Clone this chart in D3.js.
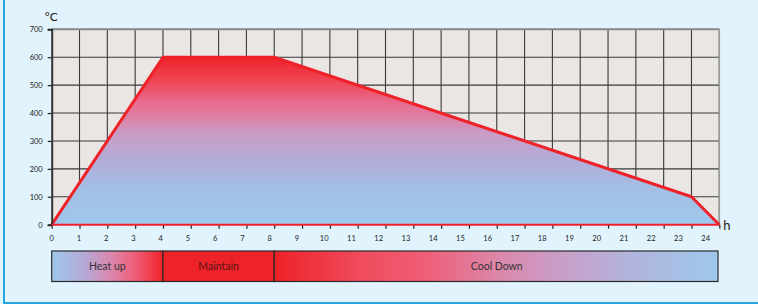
<!DOCTYPE html>
<head>
  <meta charset="utf-8">
  <style>
    body {
      margin: 0;
      background: #e1f3fc;
    }
    #chart {
      position: absolute;
      left: 0;
      top: 0;
      width: 758px;
      height: 304px;
      box-sizing: border-box;
      border-left: 2px solid #27a6df;
      border-bottom: 2px solid #27a6df;
      margin-left: 3px;
    }
    svg {
      position: absolute;
      left: 0;
      top: 0;
      font-family: Lato, 'Open Sans', sans-serif;
    }
  </style>
  <script src="https://cdn.jsdelivr.net/npm/d3@7"></script>
</head>
<body>
<div id=chart></div>
<svg id=svg width="758" height="304"></svg>

<script>
// firing profile: temperature (°C) against time (h)
const hours = [0, 4, 8, 23, 24]
const temps = [0, 600, 600, 100, 0]

const yTicks = [0, 100, 200, 300, 400, 500, 600, 700]
const xTicks = d3.range(0, 25)

const phaseNames = ['Heat up', 'Maintain', 'Cool Down']
const phaseStart = [0, 4, 8]
const phaseEnd = [4, 8, 24]

const red = '#ee2229'
const blue = '#9ec8ec'

const svg = d3.select('#svg')

const x = d3.scaleLinear([0, 24], [51.7, 719.3])
// tick labels in the original drift a little left of their ticks
const xl = d3.scaleLinear([0, 24], [51.7, 705.7])
const y = d3.scaleLinear([0, 700], [224.7, 29.3])

const defs = svg.append('defs')
const fillGrad = defs.append('linearGradient')
  .attr('id', 'fillGrad')
  .attr('gradientUnits', 'userSpaceOnUse')
  .attr('x1', 0).attr('x2', 0)
  .attr('y1', y(600)).attr('y2', y(0))
fillGrad.selectAll('stop')
  .data([[0, red], [0.15, '#ef4858'], [0.26, '#e9688a'], [0.36, '#de80a4'], [0.45, '#c99cc4'], [0.61, '#b3acd8'], [0.79, '#a4bfe5'], [1, blue]])
  .join('stop')
  .attr('offset', d => d[0])
  .attr('stop-color', d => d[1])

const heatGrad = defs.append('linearGradient').attr('id', 'heatGrad')
heatGrad.selectAll('stop')
  .data([[0, blue], [0.3, '#b5a9d6'], [0.55, '#de84aa'], [0.78, '#f0586f'], [1, red]])
  .join('stop')
  .attr('offset', d => d[0])
  .attr('stop-color', d => d[1])

const coolGrad = defs.append('linearGradient').attr('id', 'coolGrad')
coolGrad.selectAll('stop')
  .data([[0, red], [0.2, '#f04c5e'], [0.33, '#f05c74'], [0.5, '#dc86a8'], [0.62, '#cc9ac4'], [0.8, '#b2b4dc'], [1, blue]])
  .join('stop')
  .attr('offset', d => d[0])
  .attr('stop-color', d => d[1])

// plot background
svg.append('rect')
  .attr('x', x(0)).attr('y', y(700))
  .attr('width', x(24) - x(0)).attr('height', y(0) - y(700))
  .attr('fill', '#e9e6e3')

// grid
const grid = svg.append('g').attr('stroke', '#3a3a3a').attr('stroke-width', 1.1)
grid.selectAll('.v')
  .data(xTicks.slice(1))
  .join('line')
  .attr('x1', d => x(d)).attr('x2', d => x(d))
  .attr('y1', y(700)).attr('y2', y(0))
grid.selectAll('.h')
  .data(yTicks.slice(1))
  .join('line')
  .attr('x1', x(0)).attr('x2', x(24))
  .attr('y1', d => y(d)).attr('y2', d => y(d))
svg.append('line')
  .attr('x1', x(0)).attr('x2', x(24))
  .attr('y1', y(700)).attr('y2', y(700))
  .attr('stroke', '#8a8c8e').attr('stroke-width', 2)
svg.append('line')
  .attr('x1', x(24)).attr('x2', x(24))
  .attr('y1', y(700)).attr('y2', y(0))
  .attr('stroke', '#9a9c9e').attr('stroke-width', 1.5)

const points = hours.map((h, i) => [h, temps[i]])

svg.append('path')
  .attr('d', d3.area().x(d => x(d[0])).y0(y(0)).y1(d => y(d[1]))(points))
  .attr('fill', 'url(#fillGrad)')

svg.append('path')
  .attr('d', d3.line().x(d => x(d[0])).y(d => y(d[1]))(points))
  .attr('fill', 'none')
  .attr('stroke', red)
  .attr('stroke-width', 3)
  .attr('stroke-linejoin', 'round')

// y axis
const yAxis = svg.append('g')
  .attr('transform', `translate(${x(0)},0)`)
  .call(d3.axisLeft(y).tickValues(yTicks).tickSize(4).tickPadding(5))
yAxis.select('.domain').attr('stroke', '#333').attr('stroke-width', 2)
yAxis.selectAll('.tick line').attr('stroke', '#222').attr('stroke-width', 1.2)
yAxis.selectAll('.tick text')
  .attr('font-size', 7.5).attr('fill', '#222')
  .attr('font-family', 'Lato, sans-serif')

// x axis ticks (below the red base line)
const xAxis = svg.append('g')
  .attr('transform', `translate(0,${y(0)})`)
  .call(d3.axisBottom(x).tickValues(xTicks).tickSize(4).tickFormat(''))
xAxis.select('.domain').remove()
xAxis.selectAll('.tick line').attr('stroke', '#222').attr('stroke-width', 1.2)

svg.append('g')
  .selectAll('text')
  .data(xTicks)
  .join('text')
  .attr('x', d => xl(d))
  .attr('y', y(0) + 16)
  .attr('text-anchor', 'middle')
  .attr('font-size', 7.5)
  .attr('fill', '#222')
  .text(d => d)

svg.append('line')
  .attr('x1', x(0)).attr('x2', x(24))
  .attr('y1', y(0)).attr('y2', y(0))
  .attr('stroke', red).attr('stroke-width', 2)

svg.append('text')
  .attr('x', x(0) - 7).attr('y', 21)
  .attr('font-size', 12).attr('fill', '#222')
  .text('°C')
svg.append('text')
  .attr('x', x(24) + 4).attr('y', y(0) + 5)
  .attr('font-size', 13).attr('fill', '#222')
  .text('h')

// phase bar
const barTop = 251
const barH = 30.5
const fills = ['url(#heatGrad)', red, 'url(#coolGrad)']
const textColors = ['#333', '#5a1418', '#333']
const bar = svg.append('g')
bar.selectAll('rect')
  .data(phaseNames)
  .join('rect')
  .attr('x', (d, i) => x(phaseStart[i]))
  .attr('y', barTop)
  .attr('width', (d, i) => x(phaseEnd[i]) - x(phaseStart[i]) - (i === 2 ? 1.3 : 0))
  .attr('height', barH)
  .attr('fill', (d, i) => fills[i])
  .attr('stroke', '#2a2a2a')
  .attr('stroke-width', 1.2)
bar.selectAll('text')
  .data(phaseNames)
  .join('text')
  .attr('x', (d, i) => (x(phaseStart[i]) + x(phaseEnd[i])) / 2)
  .attr('y', barTop + barH / 2 + 3.8)
  .attr('text-anchor', 'middle')
  .attr('font-size', 10.5)
  .attr('fill', (d, i) => textColors[i])
  .text(d => d)
</script>
</body>
